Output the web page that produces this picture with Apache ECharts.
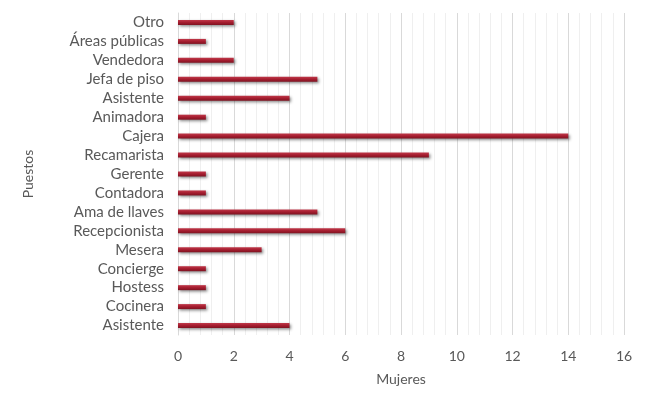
<!DOCTYPE html>
<html><head><meta charset="utf-8">
<script src="https://cdn.jsdelivr.net/npm/echarts@6/dist/echarts.min.js"></script>
<style>html,body{margin:0;padding:0;background:#fff}#c{width:657px;height:393px}</style>
</head><body><div id="c"></div>
<script>
var categories = ['Asistente','Cocinera','Hostess','Concierge','Mesera','Recepcionista','Ama de llaves','Contadora','Gerente','Recamarista','Cajera','Animadora','Asistente','Jefa de piso','Vendedora','Áreas públicas','Otro'];
var values = [4,1,1,1,3,6,5,1,1,9,14,1,4,5,2,1,2];
var xTicks = [0,2,4,6,8,10,12,14,16];
var chart = echarts.init(document.getElementById('c'));
var font = 'Lato, "Open Sans", sans-serif';
chart.setOption({
  animation: false,
  grid: {left: 178, right: 33, top: 13, bottom: 58},
  xAxis: {
    type: 'value', min: 0, max: 16, interval: 2,
    name: 'Mujeres', nameLocation: 'middle', nameGap: 37,
    nameTextStyle: {color: '#595959', fontSize: 14, fontFamily: font},
    axisLine: {show: false}, axisTick: {show: false},
    axisLabel: {color: '#595959', fontSize: 14, fontFamily: font, margin: 14,
      formatter: function(v){ return xTicks.indexOf(v) >= 0 ? String(v) : ''; }},
    splitLine: {show: true, lineStyle: {color: '#d9d9d9', width: 1}},
    minorTick: {show: false, splitNumber: 5},
    minorSplitLine: {show: true, lineStyle: {color: '#efefef', width: 1}}
  },
  yAxis: {
    type: 'category', data: categories,
    name: 'Puestos', nameLocation: 'middle', nameGap: 143, nameRotate: 90,
    nameTextStyle: {color: '#595959', fontSize: 14, fontFamily: font},
    axisLine: {show: true, lineStyle: {color: '#d9d9d9'}},
    axisTick: {show: false},
    axisLabel: {color: '#595959', fontSize: 15, fontFamily: font, margin: 14, interval: 0}
  },
  series: [{
    type: 'bar', data: values, barWidth: 5,
    itemStyle: {
      color: new echarts.graphic.LinearGradient(0,0,0,1,[
        {offset:0, color:'#c0394a'},{offset:0.5, color:'#a51d2f'},{offset:1, color:'#7e1321'}]),
      shadowColor: 'rgba(0,0,0,0.45)', shadowBlur: 3, shadowOffsetX: 1.5, shadowOffsetY: 1.5
    }
  }]
});
</script></body></html>
